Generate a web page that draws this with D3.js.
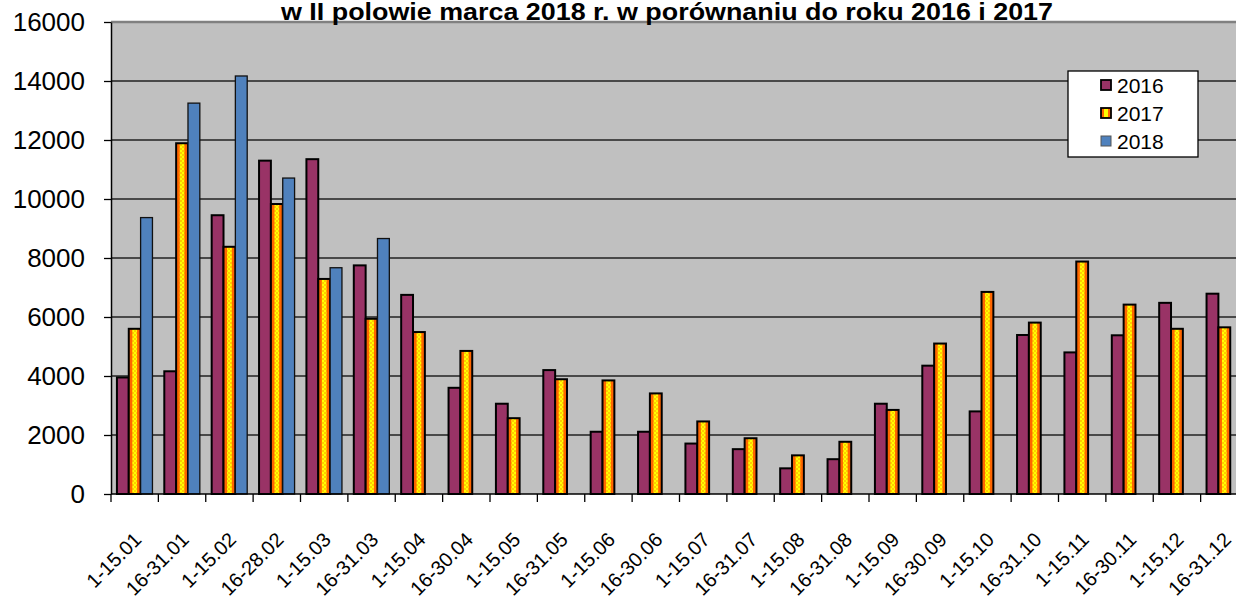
<!DOCTYPE html>
<html>
<head>
<meta charset="utf-8">
<script src="https://cdn.jsdelivr.net/npm/d3@7"></script>
<style>
  body { margin: 0; background: #fff; }
  text { font-family: "Liberation Sans", Arial, sans-serif; fill: #000; }
</style>
</head>
<body>
<svg id="chart" width="1236" height="605"></svg>
<script>
// categories (half-month periods)
var categories = ["1-15.01", "16-31.01", "1-15.02", "16-28.02", "1-15.03", "16-31.03",
    "1-15.04", "16-30.04", "1-15.05", "16-31.05", "1-15.06", "16-30.06",
    "1-15.07", "16-31.07", "1-15.08", "16-31.08", "1-15.09", "16-30.09",
    "1-15.10", "16-31.10", "1-15.11", "16-30.11", "1-15.12", "16-31.12"];

var years = ["2016", "2017", "2018"];

var values2016 = [3950, 4160, 9450, 11300, 11350, 7750, 6750, 3600, 3060, 4200, 2110, 2110,
    1710, 1520, 870, 1180, 3060, 4350, 2800, 5390, 4800, 5380, 6480, 6790];
var values2017 = [5600, 11890, 8380, 9830, 7290, 5940, 5490, 4850, 2570, 3890, 3850, 3410,
    2460, 1890, 1310, 1770, 2850, 5100, 6850, 5810, 7880, 6420, 5600, 5650];
var values2018 = [9370, 13250, 14170, 10710, 7670, 8660];

var yTicks = [0, 2000, 4000, 6000, 8000, 10000, 12000, 14000, 16000];

var titleText = "w  II polowie marca 2018 r. w porównaniu do roku 2016 i 2017";

// build rows for drawing
var bars = [];
categories.forEach(function (c, i) {
    bars.push({ cat: c, year: "2016", v: values2016[i] });
    bars.push({ cat: c, year: "2017", v: values2017[i] });
    if (values2018[i] != null) bars.push({ cat: c, year: "2018", v: values2018[i] });
});

var svg = d3.select("#chart");
var plotLeft = 111, plotRight = 1248, plotTop = 22, plotBottom = 494;

var x0 = d3.scaleBand().domain(categories).range([plotLeft, plotRight]).paddingInner(0).paddingOuter(0);
var x1 = d3.scaleBand().domain(years).range([0, x0.bandwidth()]).paddingOuter(0.5).paddingInner(0);
var y = d3.scaleLinear().domain([0, 16000]).range([plotBottom, plotTop]);

// pattern for 2017 (yellow / orange check)
var defs = svg.append("defs");
var pat = defs.append("pattern")
    .attr("id", "check")
    .attr("patternUnits", "userSpaceOnUse")
    .attr("width", 4).attr("height", 4);
pat.append("rect").attr("width", 4).attr("height", 4).attr("fill", "#ffff00");
pat.append("rect").attr("x", 0).attr("y", 0).attr("width", 2).attr("height", 2).attr("fill", "#ffcc00");
pat.append("rect").attr("x", 2).attr("y", 2).attr("width", 2).attr("height", 2).attr("fill", "#ffcc00");

// plot background
svg.append("rect")
    .attr("x", plotLeft).attr("y", plotTop)
    .attr("width", plotRight - plotLeft).attr("height", plotBottom - plotTop)
    .attr("fill", "#c0c0c0");

// gridlines
svg.append("g")
    .selectAll("line")
    .data(yTicks.filter(function (d) { return d > 0; }))
    .enter().append("line")
    .attr("x1", plotLeft).attr("x2", plotRight)
    .attr("y1", function (d) { return y(d); })
    .attr("y2", function (d) { return y(d); })
    .attr("stroke", function (d) { return d == 16000 ? "#808080" : "#222"; })
    .attr("stroke-width", function (d) { return d == 16000 ? 2.5 : 1.3; });

// bars
var barG = svg.append("g");
var bw = x1.bandwidth();

barG.selectAll(".bar16")
    .data(bars.filter(function (d) { return d.year == "2016"; }))
    .enter().append("rect")
    .attr("x", function (d) { return x0(d.cat) + x1(d.year); })
    .attr("y", function (d) { return y(d.v); })
    .attr("width", bw)
    .attr("height", function (d) { return plotBottom - y(d.v); })
    .attr("fill", "#993366")
    .attr("stroke", "#000").attr("stroke-width", 2);

var b17 = barG.selectAll(".bar17")
    .data(bars.filter(function (d) { return d.year == "2017"; }))
    .enter().append("g");
b17.append("rect")
    .attr("x", function (d) { return x0(d.cat) + x1(d.year); })
    .attr("y", function (d) { return y(d.v); })
    .attr("width", bw)
    .attr("height", function (d) { return plotBottom - y(d.v); })
    .attr("fill", "#ff6600");
b17.append("rect")
    .attr("x", function (d) { return x0(d.cat) + x1(d.year) + bw * 0.3; })
    .attr("y", function (d) { return y(d.v); })
    .attr("width", bw * 0.4)
    .attr("height", function (d) { return plotBottom - y(d.v); })
    .attr("fill", "url(#check)");
b17.append("rect")
    .attr("x", function (d) { return x0(d.cat) + x1(d.year); })
    .attr("y", function (d) { return y(d.v); })
    .attr("width", bw)
    .attr("height", function (d) { return plotBottom - y(d.v); })
    .attr("fill", "none")
    .attr("stroke", "#000").attr("stroke-width", 2);

barG.selectAll(".bar18")
    .data(bars.filter(function (d) { return d.year == "2018"; }))
    .enter().append("rect")
    .attr("x", function (d) { return x0(d.cat) + x1(d.year); })
    .attr("y", function (d) { return y(d.v); })
    .attr("width", bw)
    .attr("height", function (d) { return plotBottom - y(d.v); })
    .attr("fill", "#4f81bd")
    .attr("stroke", "#111").attr("stroke-width", 1.3);

// y axis
var yAxis = d3.axisLeft(y).tickValues(yTicks).tickFormat(d3.format("d"))
    .tickSize(7).tickPadding(19).tickSizeOuter(0);
var yg = svg.append("g")
    .attr("transform", "translate(" + plotLeft + ",0)")
    .call(yAxis);
yg.select(".domain").attr("stroke", "#000").attr("stroke-width", 1.5);
yg.selectAll(".tick line").attr("stroke", "#000").attr("stroke-width", 1.3);
yg.selectAll(".tick text")
    .style("font-family", "'Liberation Sans', Arial, sans-serif")
    .style("font-size", "26px")
    .attr("fill", "#000");

// x axis - ticks at category boundaries
var xg = svg.append("g");
xg.append("line")
    .attr("x1", plotLeft).attr("x2", plotRight)
    .attr("y1", plotBottom).attr("y2", plotBottom)
    .attr("stroke", "#000").attr("stroke-width", 1.5);
xg.selectAll(".xtick")
    .data(categories)
    .enter().append("line")
    .attr("x1", function (d) { return x0(d); })
    .attr("x2", function (d) { return x0(d); })
    .attr("y1", plotBottom).attr("y2", plotBottom + 8)
    .attr("stroke", "#000").attr("stroke-width", 1.3);
xg.selectAll(".xlabel")
    .data(categories)
    .enter().append("text")
    .attr("transform", function (d) {
        return "translate(" + (x0(d) + x0.bandwidth() / 2 + 8) + "," + (plotBottom + 47) + ") rotate(-45)";
    })
    .attr("text-anchor", "end")
    .style("font-size", "20px")
    .text(function (d) { return d; });

// legend
var legend = svg.append("g");
legend.append("rect")
    .attr("x", 1068).attr("y", 71).attr("width", 130).attr("height", 86)
    .attr("fill", "#fff").attr("stroke", "#000").attr("stroke-width", 1.3);
var legY = d3.scalePoint().domain(years).range([85, 141]);
var li = legend.selectAll(".li").data(years).enter().append("g");
li.append("rect")
    .attr("x", 1101).attr("y", function (d) { return legY(d) - 5; })
    .attr("width", 10).attr("height", 10)
    .attr("fill", function (d) { return d == "2016" ? "#993366" : d == "2017" ? "#ff6600" : "#4f81bd"; })
    .attr("stroke", function (d) { return d == "2018" ? "#555" : "#000"; })
    .attr("stroke-width", function (d) { return d == "2018" ? 1 : 1.8; });
li.filter(function (d) { return d == "2017"; }).append("rect")
    .attr("x", 1104).attr("y", function (d) { return legY(d) - 4; })
    .attr("width", 4).attr("height", 8)
    .attr("fill", "#ffff00");
li.append("text")
    .attr("x", 1117).attr("y", function (d) { return legY(d); })
    .attr("dy", "0.36em")
    .style("font-size", "21px")
    .attr("fill", "#222")
    .text(function (d) { return d; });

// title
svg.append("text")
    .attr("x", 281).attr("y", 20)
    .attr("textLength", 772)
    .attr("lengthAdjust", "spacingAndGlyphs")
    .style("font-family", "'Liberation Sans Narrow', 'Liberation Sans', Arial, sans-serif")
    .style("font-weight", "bold")
    .style("font-size", "23px")
    .text(titleText);
</script>
</body>
</html>
